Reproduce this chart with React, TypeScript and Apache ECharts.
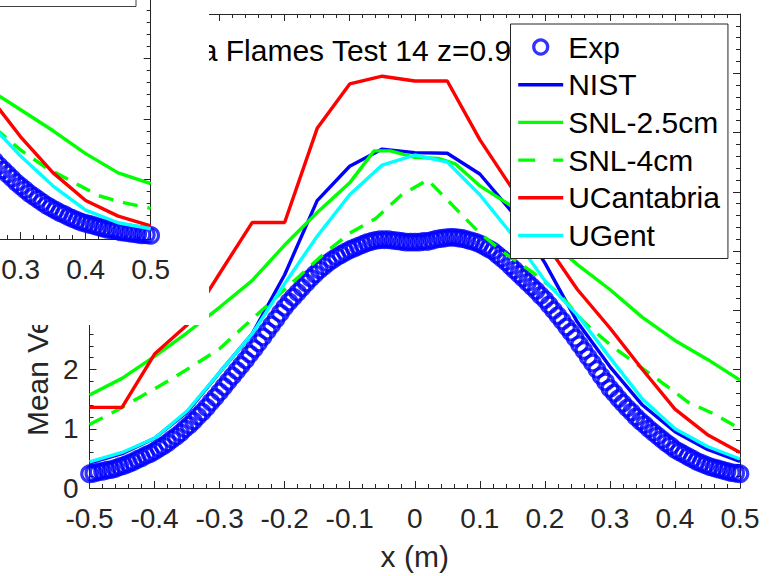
import React, { useEffect, useRef } from 'react';
import * as echarts from 'echarts';

// ---------- data (main panel) ----------
const expStart = -0.5;
const expStep = 1 / 150;
const expValues = [
  0.24, 0.25, 0.27, 0.28, 0.30, 0.31, 0.33, 0.36, 0.38, 0.41, 0.44, 0.48,
  0.51, 0.55, 0.58, 0.62, 0.67, 0.71, 0.76, 0.82, 0.87, 0.93, 1.00, 1.06,
  1.13, 1.21, 1.28, 1.36, 1.45, 1.53, 1.62, 1.71, 1.80, 1.89, 1.98, 2.07,
  2.16, 2.26, 2.35, 2.45, 2.55, 2.65, 2.75, 2.85, 2.95, 3.05, 3.14, 3.22,
  3.30, 3.38, 3.46, 3.54, 3.61, 3.68, 3.74, 3.80, 3.85, 3.90, 3.94, 3.98,
  4.02, 4.05, 4.08, 4.11, 4.14, 4.16, 4.18, 4.19, 4.19, 4.19, 4.18, 4.17,
  4.16, 4.15, 4.15, 4.15, 4.15, 4.16, 4.16, 4.18, 4.20, 4.21, 4.22, 4.23,
  4.23, 4.22, 4.21, 4.19, 4.17, 4.15, 4.12, 4.08, 4.04, 4.00, 3.94, 3.88,
  3.82, 3.75, 3.68, 3.61, 3.54, 3.47, 3.40, 3.33, 3.25, 3.18, 3.09, 3.00,
  2.91, 2.82, 2.72, 2.63, 2.53, 2.42, 2.32, 2.21, 2.11, 2.00, 1.89, 1.79,
  1.68, 1.60, 1.51, 1.43, 1.35, 1.28, 1.20, 1.13, 1.07, 1.00, 0.94, 0.88,
  0.82, 0.76, 0.71, 0.65, 0.61, 0.57, 0.53, 0.49, 0.45, 0.42, 0.39, 0.36,
  0.34, 0.32, 0.30, 0.28, 0.26, 0.25, 0.24,
];
const modelX = [-0.5, -0.45, -0.4, -0.35, -0.3, -0.25, -0.2, -0.15, -0.1, -0.05, 0, 0.05, 0.1, 0.15, 0.2, 0.25, 0.3, 0.35, 0.4, 0.45, 0.5];
const nistValues = [0.42, 0.58, 0.84, 1.28, 1.95, 2.6, 3.6, 4.85, 5.43, 5.72, 5.66, 5.65, 5.3, 4.65, 3.8, 2.8, 2.05, 1.4, 0.95, 0.65, 0.45];
const ucValues = [1.36, 1.36, 2.26, 2.75, 3.62, 4.48, 4.48, 6.07, 6.82, 6.95, 6.87, 6.87, 5.88, 5.05, 4.15, 3.35, 2.7, 2.0, 1.33, 0.9, 0.6];
const ugentValues = [0.44, 0.6, 0.84, 1.3, 1.95, 2.6, 3.45, 4.25, 4.95, 5.45, 5.62, 5.5, 4.95, 4.27, 3.5, 2.92, 2.2, 1.5, 1.0, 0.7, 0.49];
const snl25X = [-0.5, -0.45, -0.4, -0.35, -0.3, -0.25, -0.2, -0.15, -0.1, -0.0625, -0.0375, 0, 0.0375, 0.0625, 0.1, 0.15, 0.2, 0.25, 0.3, 0.35, 0.4, 0.45, 0.5];
const snl25Values = [1.57, 1.85, 2.22, 2.62, 3.05, 3.5, 4.1, 4.65, 5.15, 5.69, 5.69, 5.58, 5.56, 5.47, 5.1, 4.75, 4.25, 3.77, 3.35, 2.88, 2.49, 2.17, 1.82];
const snl4X = [-0.5, -0.46, -0.42, -0.38, -0.34, -0.3, -0.26, -0.22, -0.18, -0.14, -0.1, -0.06, -0.02, 0.02, 0.06, 0.1, 0.14, 0.18, 0.22, 0.26, 0.3, 0.34, 0.38, 0.42, 0.46, 0.5];
const snl4Values = [1.07, 1.3, 1.55, 1.8, 2.07, 2.35, 2.75, 3.15, 3.55, 3.95, 4.3, 4.55, 4.95, 5.2, 4.75, 4.3, 3.95, 3.65, 3.3, 2.8, 2.42, 2.1, 1.78, 1.45, 1.25, 1.0];

// ---------- data (overlapping panel, only its right part is visible) ----------
const insetExpStart = 0.26;
const insetExpValues = [
  1.30, 1.22, 1.15, 1.08, 1.01, 0.94, 0.88, 0.82, 0.76, 0.71, 0.66, 0.61,
  0.56, 0.52, 0.48, 0.44, 0.41, 0.37, 0.34, 0.31, 0.28, 0.26, 0.24, 0.22,
  0.20, 0.18, 0.16, 0.15, 0.14, 0.12, 0.11, 0.10, 0.09, 0.08, 0.07, 0.07,
  0.06,
];
const insetX = [0.25, 0.3, 0.35, 0.4, 0.45, 0.5];
const insetSnl25Values = [2.5, 2.15, 1.8, 1.42, 1.1, 0.92];
const insetUcValues = [2.4, 1.7, 1.1, 0.64, 0.38, 0.22];
const insetUgentValues = [1.95, 1.38, 0.88, 0.48, 0.27, 0.17];
const insetSnl4X = [0.26, 0.3, 0.34, 0.38, 0.42, 0.46, 0.5];
const insetSnl4Values = [1.85, 1.48, 1.18, 0.95, 0.72, 0.6, 0.51];

const seriesNames = ['Exp', 'NIST', 'SNL-2.5cm', 'SNL-4cm', 'UCantabria', 'UGent'];
const titleText = 'Sandia Flames Test 14 z=0.9 m';
const xName = 'x (m)';
const yName = 'Mean Vertical Velocity (m/s)';

// ---------- helpers ----------
const zip = (xs: number[], ys: number[]) => xs.map((x, i) => [x, ys[i]]);
const stepped = (start: number, step: number, ys: number[]) =>
  ys.map((y, i) => [Number((start + i * step).toFixed(5)), y]);

const AX = '#262626';
const FONT = '"Liberation Sans", Arial, Helvetica, sans-serif';
const BLUE = '#0000ff';
const GREEN = '#00ff00';
const RED = '#ff0000';
const CYAN = '#00ffff';
const LW = 3.4;
const DASH = [15, 10];

function axis(extra: any) {
  return {
    type: 'value',
    axisLine: { show: true, onZero: false, lineStyle: { color: AX, width: 1 } },
    axisTick: { show: true, inside: true, length: 7, lineStyle: { color: AX, width: 1 } },
    minorTick: { show: true, splitNumber: 5, length: 4, lineStyle: { color: AX, width: 1 } },
    splitLine: { show: false },
    minorSplitLine: { show: false },
    axisLabel: { show: true, color: AX, fontSize: 28, fontFamily: FONT, margin: 16 },
    ...extra,
  };
}

function lineSeries(name: string, data: any, color: string, extra: any = {}) {
  return {
    name,
    type: 'line',
    data,
    symbol: 'none',
    clip: false,
    lineStyle: { color, width: LW },
    itemStyle: { color },
    emphasis: { disabled: true },
    silent: true,
    ...extra,
  };
}

function expSeries(name: string, data: any, extra: any = {}) {
  return {
    name,
    type: 'scatter',
    data,
    symbol: 'circle',
    symbolSize: 15.5,
    clip: false,
    itemStyle: { color: 'rgba(0,0,0,0)', borderColor: BLUE, borderWidth: 3.2 },
    emphasis: { disabled: true },
    silent: true,
    ...extra,
  };
}

const legendLine = (name: string, color: string, type: any = 'solid') => ({
  name,
  itemStyle: { opacity: 0 },
  lineStyle: { color, width: LW, type },
});

export default function App() {
  const mainRef = useRef<HTMLDivElement>(null);
  const insetRef = useRef<HTMLDivElement>(null);

  useEffect(() => {
    if (!mainRef.current || !insetRef.current) return;
    const chart = echarts.init(mainRef.current, null, { renderer: 'svg' });
    const insetChart = echarts.init(insetRef.current, null, { renderer: 'svg' });

    chart.setOption({
      animation: false,
      backgroundColor: '#ffffff',
      textStyle: { fontFamily: FONT },
      title: {
        text: titleText,
        left: 124,
        top: 35,
        padding: 0,
        textStyle: { fontSize: 30, fontWeight: 'normal', color: '#000', fontFamily: FONT },
      },
      legend: {
        data: [
          { name: 'Exp', icon: 'circle', itemStyle: { color: 'rgba(0,0,0,0)', borderColor: BLUE, borderWidth: 3.2 } },
          legendLine('NIST', BLUE),
          legendLine('SNL-2.5cm', GREEN),
          legendLine('SNL-4cm', GREEN, [17, 18]),
          legendLine('UCantabria', RED),
          legendLine('UGent', CYAN),
        ],
        orient: 'vertical',
        left: 510.5,
        top: 24,
        padding: [8, 8, 8, 6],
        itemWidth: 45,
        itemHeight: 14,
        itemGap: 7.7,
        backgroundColor: '#fff',
        borderColor: AX,
        borderWidth: 1,
        borderRadius: 0,
        selectedMode: false,
        z: 50,
        textStyle: { fontSize: 30, color: '#000', fontFamily: FONT, lineHeight: 30 },
      },
      grid: { left: 89.5, top: 8.5, width: 650.5, height: 481 },
      xAxis: [
        axis({
          position: 'bottom', min: -0.5, max: 0.5, interval: 0.1,
          name: xName, nameLocation: 'middle', nameGap: 53,
          nameTextStyle: { fontSize: 30, color: AX, fontFamily: FONT },
        }),
        axis({ position: 'top', min: -0.5, max: 0.5, interval: 0.1, axisLabel: { show: false } }),
      ],
      yAxis: [
        axis({
          position: 'left', min: 0, max: 8, interval: 1,
          name: yName, nameLocation: 'middle', nameGap: 35,
          nameTextStyle: { fontSize: 30, color: AX, fontFamily: FONT },
          axisLabel: { show: true, color: AX, fontSize: 28, fontFamily: FONT, margin: 11 },
        }),
        axis({ position: 'right', min: 0, max: 8, interval: 1, axisLabel: { show: false } }),
      ],
      series: [
        expSeries(seriesNames[0], stepped(expStart, expStep, expValues)),
        lineSeries(seriesNames[1], zip(modelX, nistValues), BLUE),
        lineSeries(seriesNames[2], zip(snl25X, snl25Values), GREEN),
        lineSeries(seriesNames[3], zip(snl4X, snl4Values), GREEN, { lineStyle: { color: GREEN, width: LW, type: DASH } }),
        lineSeries(seriesNames[4], zip(modelX, ucValues), RED),
        lineSeries(seriesNames[5], zip(modelX, ugentValues), CYAN),
      ],
    });

    // The overlapping panel: a second plot of which only the lower-right corner shows.
    insetChart.setOption({
      animation: false,
      backgroundColor: '#ffffff',
      textStyle: { fontFamily: FONT },
      grid: { left: 60.2, top: 58, width: 650.5, height: 481 },
      xAxis: [axis({ position: 'bottom', min: -0.5, max: 0.5, interval: 0.1 })],
      yAxis: [axis({ position: 'right', min: 0, max: 8, interval: 1, axisLabel: { show: false } })],
      graphic: [
        {
          type: 'rect',
          shape: { x: 300.5, y: 200.5, width: 395.5, height: 106 },
          style: { fill: '#ffffff', stroke: '#404040', lineWidth: 1 },
          z: 30,
          silent: true,
        },
      ],
      series: [
        expSeries('Exp', stepped(insetExpStart, expStep, insetExpValues)),
        lineSeries('SNL-2.5cm', zip(insetX, insetSnl25Values), GREEN),
        lineSeries('SNL-4cm', zip(insetSnl4X, insetSnl4Values), GREEN, { lineStyle: { color: GREEN, width: LW, type: DASH } }),
        lineSeries('UCantabria', zip(insetX, insetUcValues), RED),
        lineSeries('UGent', zip(insetX, insetUgentValues), CYAN),
      ],
    });

    return () => {
      chart.dispose();
      insetChart.dispose();
    };
  }, []);

  return (
    <div style={{ position: 'fixed', left: 0, top: 0, width: 774, height: 576, background: '#fff' }}>
      <div ref={mainRef} style={{ position: 'absolute', left: 0, top: 0, width: 774, height: 576 }} />
      <div
        style={{
          position: 'absolute', left: 0, top: 0, width: 209, height: 325,
          overflow: 'hidden', background: '#fff', zIndex: 1,
        }}
      >
        <div ref={insetRef} style={{ position: 'absolute', left: -560, top: -300, width: 800, height: 640 }} />
      </div>
    </div>
  );
}
